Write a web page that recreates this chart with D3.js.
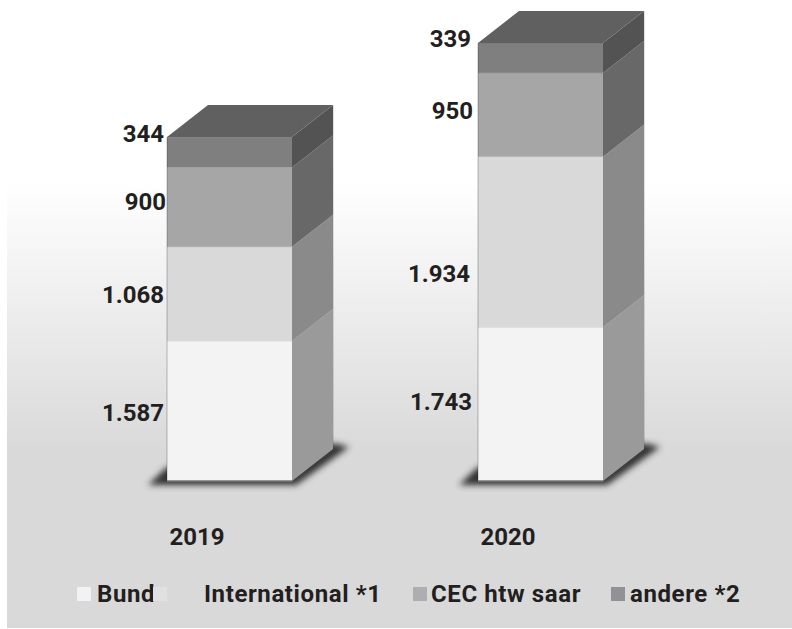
<!DOCTYPE html>
<html><head><meta charset="utf-8">
<style>html,body{margin:0;padding:0;background:#fff}svg{display:block}text{font-family:Roboto,sans-serif;font-weight:700;fill:#231f20}</style>
<script src="https://cdn.jsdelivr.net/npm/d3@7"></script></head><body>
<script>
const years = ["2019","2020"];
const seriesNames = ["Bund","International *1","CEC htw saar","andere *2"];
const bund = [1587,1743];
const international = [1068,1934];
const cec = [900,950];
const andere = [344,339];
const valueLabels = [["1.587","1.743"],["1.068","1.934"],["900","950"],["344","339"]];
const frontColors = ["#f3f3f3","#d9d9d9","#a6a6a6","#7f7f7f"];
const sideColors = ["#9a9a9a","#8a8a8a","#686868","#535353"];
const legendColors = ["#f2f2f4","#e0e0e2","#aeaeb2","#929296"];
// hand-placed label offsets from the centre of each segment
const labelDy = [[1,-3],[0,31],[-6,-4],[-19,-20]];
const labelRight = [[164,472],[164,470],[166,473],[164,471]];
const legendSwatchX = [77,153,413,611];
const legendTextX = [97,204,431,630];

const W=792,H=629,depthX=41,depthY=32;
const svg=d3.select("body").append("svg").attr("width",W).attr("height",H);
const defs=svg.append("defs");
const g=defs.append("linearGradient").attr("id","bg").attr("x1",0).attr("x2",0).attr("y1",0).attr("y2",1);
g.append("stop").attr("offset",0.29).attr("stop-color","#fff");
g.append("stop").attr("offset",0.72).attr("stop-color","#d9d9d9");
defs.append("filter").attr("id","blur").attr("x","-20%").attr("y","-50%").attr("width","140%").attr("height","200%")
  .append("feGaussianBlur").attr("stdDeviation",3);
svg.append("rect").attr("x",7).attr("y",0).attr("width",W-7).attr("height",628).attr("fill","url(#bg)");

const x=d3.scaleBand().domain(years).range([167,603]).paddingInner(0.598).paddingOuter(0);
const y=d3.scaleLinear().domain([0,5000]).range([481,40]);
const series=[bund,international,cec,andere];
const line=d3.line();

years.forEach((yr,i)=>{
  const x0=x(yr),x1=x0+x.bandwidth();
  const base=y(0);
  svg.append("path").attr("filter","url(#blur)").attr("fill","#333")
    .attr("d",line([[x0-19,base+4],[x1+4,base+4],[x1+depthX+16,base-depthY-2],[x1+depthX,base-depthY-6],[x1,base-6],[x0,base-14]])+"Z");
  let acc=0;
  series.forEach((s,k)=>{
    const a=y(acc),b=y(acc+s[i]);
    acc+=s[i];
    svg.append("rect").attr("x",x0).attr("y",b).attr("width",x1-x0).attr("height",a-b).attr("fill",frontColors[k]);
    svg.append("path").attr("fill",sideColors[k])
      .attr("d",line([[x1,a],[x1+depthX,a-depthY],[x1+depthX,b-depthY],[x1,b]])+"Z");
    svg.append("line").attr("x1",x0).attr("x2",x1).attr("y1",b).attr("y2",b).attr("stroke","#000").attr("stroke-opacity",.08);
    svg.append("text").attr("x",labelRight[k][i]).attr("y",(a+b)/2+labelDy[k][i]).attr("dy","0.36em")
      .attr("text-anchor","end").attr("font-size",24).text(valueLabels[k][i]);
  });
  const t=y(acc);
  svg.append("path").attr("fill","#606060")
    .attr("d",line([[x0,t],[x0+depthX,t-depthY],[x1+depthX,t-depthY],[x1,t]])+"Z");
  svg.append("line").attr("x1",x0).attr("x2",x0).attr("y1",t).attr("y2",base).attr("stroke","#000").attr("stroke-opacity",.25);
  svg.append("line").attr("x1",x0).attr("x2",x1).attr("y1",base).attr("y2",base).attr("stroke","#777").attr("stroke-width",1.5);
  svg.append("line").attr("x1",x1+depthX+.5).attr("x2",x1+depthX+.5).attr("y1",t-depthY).attr("y2",base-depthY).attr("stroke","#000").attr("stroke-opacity",.12);
  svg.append("text").attr("x",x0+30).attr("y",536).attr("dy","0.36em").attr("text-anchor","middle").attr("font-size",24).text(yr);
});

seriesNames.forEach((n,i)=>{
  svg.append("rect").attr("x",legendSwatchX[i]).attr("y",587).attr("width",14).attr("height",14).attr("fill",legendColors[i]);
  svg.append("text").attr("x",legendTextX[i]).attr("y",593).attr("dy","0.36em").attr("font-size",24).attr("letter-spacing",0.6).text(n);
});
</script></body></html>
